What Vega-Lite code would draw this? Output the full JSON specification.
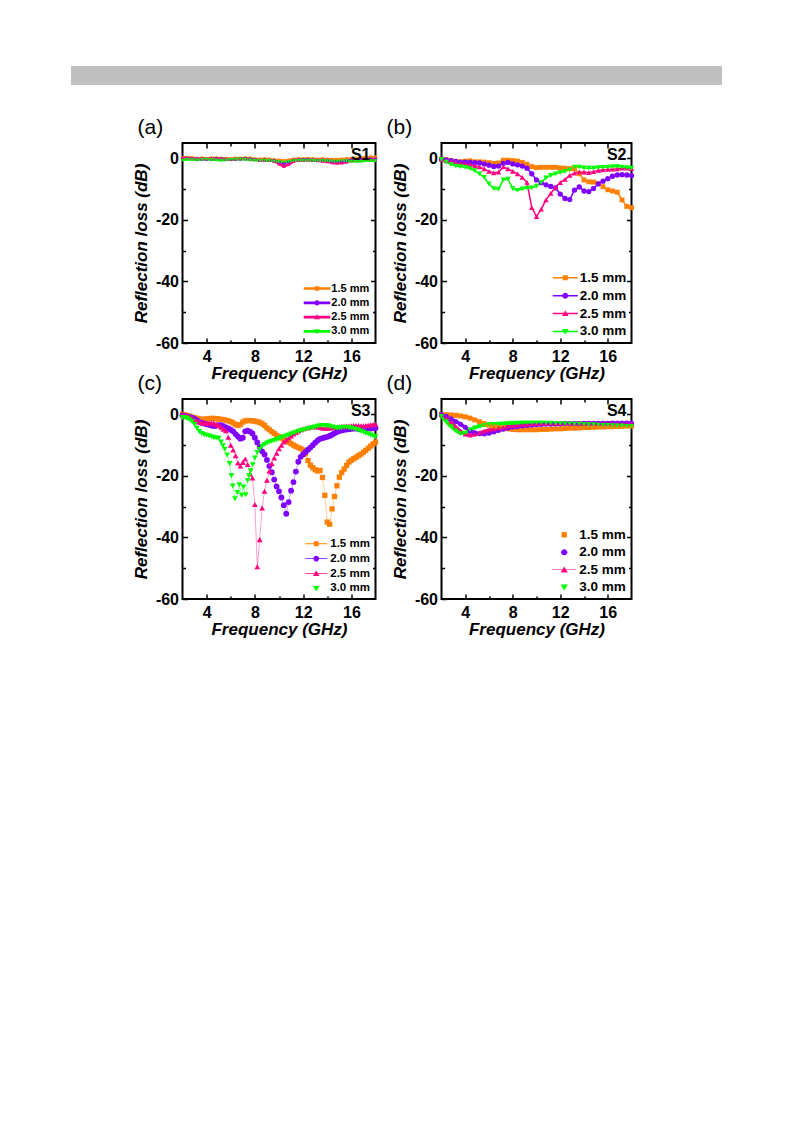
{
"$schema": "https://vega.github.io/schema/vega-lite/v6.json",
"padding": {"left": 71, "top": 66, "right": 5, "bottom": 5},
"background": "white",
"config": {
 "font": "Liberation Sans",
 "view": {"stroke": "black", "strokeWidth": 2},
 "axis": {"domain": false, "grid": false, "labelFont": "Liberation Sans", "labelFontSize": 16, "labelFontWeight": "bold", "labelColor": "black", "tickColor": "black", "tickWidth": 1.5, "titleFont": "Liberation Sans", "titleFontSize": 17, "titleFontWeight": "bold", "titleFontStyle": "italic", "titleColor": "black"},
 "title": {"font": "Liberation Sans", "fontSize": 21, "fontWeight": "normal", "color": "black", "anchor": "start", "frame": "group"},
 "legend": {"labelFont": "Liberation Sans", "labelFontWeight": "bold", "labelColor": "black", "symbolStrokeWidth": 0, "padding": 0}
},
"datasets": {
"a": [
{"s":"1.5 mm","f":2,"v":0.2},{"s":"1.5 mm","f":2.4,"v":0.2},{"s":"1.5 mm","f":2.8,"v":0.1},{"s":"1.5 mm","f":3.2,"v":0},{"s":"1.5 mm","f":3.6,"v":0},{"s":"1.5 mm","f":4,"v":-0.1},{"s":"1.5 mm","f":4.4,"v":0},{"s":"1.5 mm","f":4.8,"v":0.1},{"s":"1.5 mm","f":5.2,"v":0},{"s":"1.5 mm","f":5.6,"v":-0.1},{"s":"1.5 mm","f":6,"v":-0.2},{"s":"1.5 mm","f":6.4,"v":0},{"s":"1.5 mm","f":6.8,"v":0},{"s":"1.5 mm","f":7.2,"v":0.1},{"s":"1.5 mm","f":7.6,"v":0},{"s":"1.5 mm","f":8,"v":-0.2},{"s":"1.5 mm","f":8.4,"v":-0.3},{"s":"1.5 mm","f":8.8,"v":-0.2},{"s":"1.5 mm","f":9.2,"v":-0.3},{"s":"1.5 mm","f":9.6,"v":-0.5},{"s":"1.5 mm","f":10,"v":-0.6},{"s":"1.5 mm","f":10.4,"v":-0.8},{"s":"1.5 mm","f":10.8,"v":-0.6},{"s":"1.5 mm","f":11.2,"v":-0.3},{"s":"1.5 mm","f":11.6,"v":-0.2},{"s":"1.5 mm","f":12,"v":-0.2},{"s":"1.5 mm","f":12.4,"v":-0.1},{"s":"1.5 mm","f":12.8,"v":-0.2},{"s":"1.5 mm","f":13.2,"v":-0.3},{"s":"1.5 mm","f":13.6,"v":-0.2},{"s":"1.5 mm","f":14,"v":-0.3},{"s":"1.5 mm","f":14.4,"v":-0.4},{"s":"1.5 mm","f":14.8,"v":-0.4},{"s":"1.5 mm","f":15.2,"v":-0.3},{"s":"1.5 mm","f":15.6,"v":-0.2},{"s":"1.5 mm","f":16,"v":-0.1},{"s":"1.5 mm","f":16.4,"v":0},{"s":"1.5 mm","f":16.8,"v":0.2},{"s":"1.5 mm","f":17.2,"v":0.3},{"s":"1.5 mm","f":17.6,"v":0.4},{"s":"1.5 mm","f":18,"v":0.4},
{"s":"2.0 mm","f":2,"v":0},{"s":"2.0 mm","f":2.4,"v":0},{"s":"2.0 mm","f":2.8,"v":-0.1},{"s":"2.0 mm","f":3.2,"v":-0.2},{"s":"2.0 mm","f":3.6,"v":-0.2},{"s":"2.0 mm","f":4,"v":-0.3},{"s":"2.0 mm","f":4.4,"v":-0.2},{"s":"2.0 mm","f":4.8,"v":-0.1},{"s":"2.0 mm","f":5.2,"v":-0.2},{"s":"2.0 mm","f":5.6,"v":-0.3},{"s":"2.0 mm","f":6,"v":-0.4},{"s":"2.0 mm","f":6.4,"v":-0.3},{"s":"2.0 mm","f":6.8,"v":-0.2},{"s":"2.0 mm","f":7.2,"v":-0.1},{"s":"2.0 mm","f":7.6,"v":-0.2},{"s":"2.0 mm","f":8,"v":-0.4},{"s":"2.0 mm","f":8.4,"v":-0.6},{"s":"2.0 mm","f":8.8,"v":-0.5},{"s":"2.0 mm","f":9.2,"v":-0.6},{"s":"2.0 mm","f":9.6,"v":-0.8},{"s":"2.0 mm","f":10,"v":-1.2},{"s":"2.0 mm","f":10.4,"v":-1.6},{"s":"2.0 mm","f":10.8,"v":-1.1},{"s":"2.0 mm","f":11.2,"v":-0.6},{"s":"2.0 mm","f":11.6,"v":-0.5},{"s":"2.0 mm","f":12,"v":-0.4},{"s":"2.0 mm","f":12.4,"v":-0.4},{"s":"2.0 mm","f":12.8,"v":-0.5},{"s":"2.0 mm","f":13.2,"v":-0.6},{"s":"2.0 mm","f":13.6,"v":-0.5},{"s":"2.0 mm","f":14,"v":-0.7},{"s":"2.0 mm","f":14.4,"v":-0.9},{"s":"2.0 mm","f":14.8,"v":-1.0},{"s":"2.0 mm","f":15.2,"v":-0.9},{"s":"2.0 mm","f":15.6,"v":-0.7},{"s":"2.0 mm","f":16,"v":-0.5},{"s":"2.0 mm","f":16.4,"v":-0.4},{"s":"2.0 mm","f":16.8,"v":-0.3},{"s":"2.0 mm","f":17.2,"v":-0.2},{"s":"2.0 mm","f":17.6,"v":-0.2},{"s":"2.0 mm","f":18,"v":-0.2},
{"s":"2.5 mm","f":2,"v":0.3},{"s":"2.5 mm","f":2.4,"v":0.2},{"s":"2.5 mm","f":2.8,"v":0},{"s":"2.5 mm","f":3.2,"v":-0.2},{"s":"2.5 mm","f":3.6,"v":-0.1},{"s":"2.5 mm","f":4,"v":0},{"s":"2.5 mm","f":4.4,"v":0.1},{"s":"2.5 mm","f":4.8,"v":0},{"s":"2.5 mm","f":5.2,"v":-0.1},{"s":"2.5 mm","f":5.6,"v":-0.2},{"s":"2.5 mm","f":6,"v":-0.3},{"s":"2.5 mm","f":6.4,"v":-0.1},{"s":"2.5 mm","f":6.8,"v":0},{"s":"2.5 mm","f":7.2,"v":0},{"s":"2.5 mm","f":7.6,"v":-0.2},{"s":"2.5 mm","f":8,"v":-0.4},{"s":"2.5 mm","f":8.4,"v":-0.6},{"s":"2.5 mm","f":8.8,"v":-0.5},{"s":"2.5 mm","f":9.2,"v":-0.6},{"s":"2.5 mm","f":9.6,"v":-1.0},{"s":"2.5 mm","f":10,"v":-1.8},{"s":"2.5 mm","f":10.4,"v":-2.6},{"s":"2.5 mm","f":10.8,"v":-2.0},{"s":"2.5 mm","f":11.2,"v":-1.0},{"s":"2.5 mm","f":11.6,"v":-0.7},{"s":"2.5 mm","f":12,"v":-0.6},{"s":"2.5 mm","f":12.4,"v":-0.5},{"s":"2.5 mm","f":12.8,"v":-0.6},{"s":"2.5 mm","f":13.2,"v":-0.8},{"s":"2.5 mm","f":13.6,"v":-0.9},{"s":"2.5 mm","f":14,"v":-1.1},{"s":"2.5 mm","f":14.4,"v":-1.4},{"s":"2.5 mm","f":14.8,"v":-1.6},{"s":"2.5 mm","f":15.2,"v":-1.5},{"s":"2.5 mm","f":15.6,"v":-1.2},{"s":"2.5 mm","f":16,"v":-0.8},{"s":"2.5 mm","f":16.4,"v":-0.6},{"s":"2.5 mm","f":16.8,"v":-0.5},{"s":"2.5 mm","f":17.2,"v":-0.4},{"s":"2.5 mm","f":17.6,"v":-0.4},{"s":"2.5 mm","f":18,"v":-0.3},
{"s":"3.0 mm","f":2,"v":-0.5},{"s":"3.0 mm","f":2.4,"v":-0.4},{"s":"3.0 mm","f":2.8,"v":-0.4},{"s":"3.0 mm","f":3.2,"v":-0.5},{"s":"3.0 mm","f":3.6,"v":-0.4},{"s":"3.0 mm","f":4,"v":-0.3},{"s":"3.0 mm","f":4.4,"v":-0.4},{"s":"3.0 mm","f":4.8,"v":-0.5},{"s":"3.0 mm","f":5.2,"v":-0.6},{"s":"3.0 mm","f":5.6,"v":-0.5},{"s":"3.0 mm","f":6,"v":-0.4},{"s":"3.0 mm","f":6.4,"v":-0.3},{"s":"3.0 mm","f":6.8,"v":-0.2},{"s":"3.0 mm","f":7.2,"v":-0.3},{"s":"3.0 mm","f":7.6,"v":-0.5},{"s":"3.0 mm","f":8,"v":-0.6},{"s":"3.0 mm","f":8.4,"v":-0.7},{"s":"3.0 mm","f":8.8,"v":-0.6},{"s":"3.0 mm","f":9.2,"v":-0.7},{"s":"3.0 mm","f":9.6,"v":-0.9},{"s":"3.0 mm","f":10,"v":-1.1},{"s":"3.0 mm","f":10.4,"v":-1.2},{"s":"3.0 mm","f":10.8,"v":-1.0},{"s":"3.0 mm","f":11.2,"v":-0.8},{"s":"3.0 mm","f":11.6,"v":-0.7},{"s":"3.0 mm","f":12,"v":-0.6},{"s":"3.0 mm","f":12.4,"v":-0.6},{"s":"3.0 mm","f":12.8,"v":-0.7},{"s":"3.0 mm","f":13.2,"v":-0.8},{"s":"3.0 mm","f":13.6,"v":-0.7},{"s":"3.0 mm","f":14,"v":-0.8},{"s":"3.0 mm","f":14.4,"v":-0.9},{"s":"3.0 mm","f":14.8,"v":-0.9},{"s":"3.0 mm","f":15.2,"v":-0.8},{"s":"3.0 mm","f":15.6,"v":-0.8},{"s":"3.0 mm","f":16,"v":-0.9},{"s":"3.0 mm","f":16.4,"v":-1.0},{"s":"3.0 mm","f":16.8,"v":-0.9},{"s":"3.0 mm","f":17.2,"v":-0.8},{"s":"3.0 mm","f":17.6,"v":-0.7},{"s":"3.0 mm","f":18,"v":-0.8}
],
"b": [
{"s":"1.5 mm","f":2,"v":-0.2},{"s":"1.5 mm","f":2.4,"v":-0.4},{"s":"1.5 mm","f":2.8,"v":-0.7},{"s":"1.5 mm","f":3.2,"v":-1.0},{"s":"1.5 mm","f":3.6,"v":-1.1},{"s":"1.5 mm","f":4,"v":-0.9},{"s":"1.5 mm","f":4.4,"v":-0.8},{"s":"1.5 mm","f":4.8,"v":-1.1},{"s":"1.5 mm","f":5.2,"v":-1.1},{"s":"1.5 mm","f":5.6,"v":-1.2},{"s":"1.5 mm","f":6,"v":-1.4},{"s":"1.5 mm","f":6.4,"v":-1.6},{"s":"1.5 mm","f":6.8,"v":-1.5},{"s":"1.5 mm","f":7.2,"v":-0.6},{"s":"1.5 mm","f":7.6,"v":-0.6},{"s":"1.5 mm","f":8,"v":-0.7},{"s":"1.5 mm","f":8.4,"v":-0.9},{"s":"1.5 mm","f":8.8,"v":-1.3},{"s":"1.5 mm","f":9.2,"v":-1.9},{"s":"1.5 mm","f":9.6,"v":-2.7},{"s":"1.5 mm","f":10,"v":-3.0},{"s":"1.5 mm","f":10.4,"v":-2.9},{"s":"1.5 mm","f":10.8,"v":-2.9},{"s":"1.5 mm","f":11.2,"v":-2.9},{"s":"1.5 mm","f":11.6,"v":-2.9},{"s":"1.5 mm","f":12,"v":-3.1},{"s":"1.5 mm","f":12.4,"v":-3.2},{"s":"1.5 mm","f":12.8,"v":-3.3},{"s":"1.5 mm","f":13.2,"v":-3.4},{"s":"1.5 mm","f":13.6,"v":-5.0},{"s":"1.5 mm","f":14,"v":-7.0},{"s":"1.5 mm","f":14.4,"v":-7.6},{"s":"1.5 mm","f":14.8,"v":-7.7},{"s":"1.5 mm","f":15.2,"v":-8.2},{"s":"1.5 mm","f":15.6,"v":-9.2},{"s":"1.5 mm","f":16,"v":-10.2},{"s":"1.5 mm","f":16.4,"v":-10.6},{"s":"1.5 mm","f":16.8,"v":-11.0},{"s":"1.5 mm","f":17.2,"v":-13.5},{"s":"1.5 mm","f":17.6,"v":-15.6},{"s":"1.5 mm","f":18,"v":-16.0},
{"s":"2.0 mm","f":2,"v":-0.2},{"s":"2.0 mm","f":2.4,"v":-0.5},{"s":"2.0 mm","f":2.8,"v":-0.7},{"s":"2.0 mm","f":3.2,"v":-1.0},{"s":"2.0 mm","f":3.6,"v":-1.2},{"s":"2.0 mm","f":4,"v":-1.2},{"s":"2.0 mm","f":4.4,"v":-1.3},{"s":"2.0 mm","f":4.8,"v":-1.4},{"s":"2.0 mm","f":5.2,"v":-1.5},{"s":"2.0 mm","f":5.6,"v":-1.8},{"s":"2.0 mm","f":6,"v":-2.2},{"s":"2.0 mm","f":6.4,"v":-2.6},{"s":"2.0 mm","f":6.8,"v":-2.5},{"s":"2.0 mm","f":7.2,"v":-1.6},{"s":"2.0 mm","f":7.6,"v":-1.3},{"s":"2.0 mm","f":8,"v":-1.8},{"s":"2.0 mm","f":8.4,"v":-2.1},{"s":"2.0 mm","f":8.8,"v":-2.5},{"s":"2.0 mm","f":9.2,"v":-3.2},{"s":"2.0 mm","f":9.6,"v":-5.0},{"s":"2.0 mm","f":10,"v":-7.0},{"s":"2.0 mm","f":10.4,"v":-7.9},{"s":"2.0 mm","f":10.8,"v":-8.6},{"s":"2.0 mm","f":11.2,"v":-9.1},{"s":"2.0 mm","f":11.6,"v":-9.6},{"s":"2.0 mm","f":12,"v":-11.6},{"s":"2.0 mm","f":12.4,"v":-13.0},{"s":"2.0 mm","f":12.8,"v":-13.4},{"s":"2.0 mm","f":13.2,"v":-10.3},{"s":"2.0 mm","f":13.6,"v":-9.3},{"s":"2.0 mm","f":14,"v":-10.6},{"s":"2.0 mm","f":14.4,"v":-10.8},{"s":"2.0 mm","f":14.8,"v":-9.8},{"s":"2.0 mm","f":15.2,"v":-8.3},{"s":"2.0 mm","f":15.6,"v":-7.4},{"s":"2.0 mm","f":16,"v":-6.6},{"s":"2.0 mm","f":16.4,"v":-5.8},{"s":"2.0 mm","f":16.8,"v":-5.4},{"s":"2.0 mm","f":17.2,"v":-5.3},{"s":"2.0 mm","f":17.6,"v":-5.4},{"s":"2.0 mm","f":18,"v":-5.6},
{"s":"2.5 mm","f":2,"v":-0.2},{"s":"2.5 mm","f":2.4,"v":-0.7},{"s":"2.5 mm","f":2.8,"v":-1.0},{"s":"2.5 mm","f":3.2,"v":-1.3},{"s":"2.5 mm","f":3.6,"v":-1.6},{"s":"2.5 mm","f":4,"v":-1.8},{"s":"2.5 mm","f":4.4,"v":-2.0},{"s":"2.5 mm","f":4.8,"v":-2.4},{"s":"2.5 mm","f":5.2,"v":-2.8},{"s":"2.5 mm","f":5.6,"v":-3.4},{"s":"2.5 mm","f":6,"v":-4.2},{"s":"2.5 mm","f":6.4,"v":-4.7},{"s":"2.5 mm","f":6.8,"v":-4.5},{"s":"2.5 mm","f":7.2,"v":-2.8},{"s":"2.5 mm","f":7.6,"v":-3.4},{"s":"2.5 mm","f":8,"v":-4.2},{"s":"2.5 mm","f":8.4,"v":-5.0},{"s":"2.5 mm","f":8.8,"v":-6.2},{"s":"2.5 mm","f":9.2,"v":-7.8},{"s":"2.5 mm","f":9.6,"v":-16.0},{"s":"2.5 mm","f":10,"v":-18.9},{"s":"2.5 mm","f":10.4,"v":-16.5},{"s":"2.5 mm","f":10.8,"v":-13.5},{"s":"2.5 mm","f":11.2,"v":-11.4},{"s":"2.5 mm","f":11.6,"v":-9.4},{"s":"2.5 mm","f":12,"v":-7.9},{"s":"2.5 mm","f":12.4,"v":-6.8},{"s":"2.5 mm","f":12.8,"v":-5.5},{"s":"2.5 mm","f":13.2,"v":-4.8},{"s":"2.5 mm","f":13.6,"v":-4.4},{"s":"2.5 mm","f":14,"v":-4.5},{"s":"2.5 mm","f":14.4,"v":-4.6},{"s":"2.5 mm","f":14.8,"v":-4.3},{"s":"2.5 mm","f":15.2,"v":-3.9},{"s":"2.5 mm","f":15.6,"v":-3.7},{"s":"2.5 mm","f":16,"v":-3.6},{"s":"2.5 mm","f":16.4,"v":-3.5},{"s":"2.5 mm","f":16.8,"v":-3.4},{"s":"2.5 mm","f":17.2,"v":-3.2},{"s":"2.5 mm","f":17.6,"v":-3.2},{"s":"2.5 mm","f":18,"v":-3.3},
{"s":"3.0 mm","f":2,"v":-0.3},{"s":"3.0 mm","f":2.4,"v":-1.2},{"s":"3.0 mm","f":2.8,"v":-2.0},{"s":"3.0 mm","f":3.2,"v":-2.5},{"s":"3.0 mm","f":3.6,"v":-2.7},{"s":"3.0 mm","f":4,"v":-2.9},{"s":"3.0 mm","f":4.4,"v":-3.3},{"s":"3.0 mm","f":4.8,"v":-4.0},{"s":"3.0 mm","f":5.2,"v":-5.0},{"s":"3.0 mm","f":5.6,"v":-6.2},{"s":"3.0 mm","f":6,"v":-8.3},{"s":"3.0 mm","f":6.4,"v":-9.8},{"s":"3.0 mm","f":6.8,"v":-10.0},{"s":"3.0 mm","f":7.2,"v":-7.0},{"s":"3.0 mm","f":7.6,"v":-6.7},{"s":"3.0 mm","f":8,"v":-9.8},{"s":"3.0 mm","f":8.4,"v":-10.4},{"s":"3.0 mm","f":8.8,"v":-9.9},{"s":"3.0 mm","f":9.2,"v":-9.7},{"s":"3.0 mm","f":9.6,"v":-9.6},{"s":"3.0 mm","f":10,"v":-9.0},{"s":"3.0 mm","f":10.4,"v":-7.8},{"s":"3.0 mm","f":10.8,"v":-6.3},{"s":"3.0 mm","f":11.2,"v":-5.5},{"s":"3.0 mm","f":11.6,"v":-5.0},{"s":"3.0 mm","f":12,"v":-4.6},{"s":"3.0 mm","f":12.4,"v":-4.2},{"s":"3.0 mm","f":12.8,"v":-3.7},{"s":"3.0 mm","f":13.2,"v":-2.8},{"s":"3.0 mm","f":13.6,"v":-2.8},{"s":"3.0 mm","f":14,"v":-3.1},{"s":"3.0 mm","f":14.4,"v":-3.2},{"s":"3.0 mm","f":14.8,"v":-3.2},{"s":"3.0 mm","f":15.2,"v":-3.0},{"s":"3.0 mm","f":15.6,"v":-2.9},{"s":"3.0 mm","f":16,"v":-2.8},{"s":"3.0 mm","f":16.4,"v":-2.7},{"s":"3.0 mm","f":16.8,"v":-2.6},{"s":"3.0 mm","f":17.2,"v":-2.8},{"s":"3.0 mm","f":17.6,"v":-3.0},{"s":"3.0 mm","f":18,"v":-3.2}
],
"c": [
{"s":"1.5 mm","f":2,"v":0},{"s":"1.5 mm","f":2.2,"v":-0.2},{"s":"1.5 mm","f":2.4,"v":-0.4},{"s":"1.5 mm","f":2.6,"v":-0.6},{"s":"1.5 mm","f":2.8,"v":-0.9},{"s":"1.5 mm","f":3,"v":-1.1},{"s":"1.5 mm","f":3.2,"v":-1.3},{"s":"1.5 mm","f":3.4,"v":-1.5},{"s":"1.5 mm","f":3.6,"v":-1.6},{"s":"1.5 mm","f":3.8,"v":-1.6},{"s":"1.5 mm","f":4,"v":-1.5},{"s":"1.5 mm","f":4.2,"v":-1.4},{"s":"1.5 mm","f":4.4,"v":-1.3},{"s":"1.5 mm","f":4.6,"v":-1.3},{"s":"1.5 mm","f":4.8,"v":-1.4},{"s":"1.5 mm","f":5,"v":-1.5},{"s":"1.5 mm","f":5.2,"v":-1.6},{"s":"1.5 mm","f":5.4,"v":-1.7},{"s":"1.5 mm","f":5.6,"v":-1.9},{"s":"1.5 mm","f":5.8,"v":-2.1},{"s":"1.5 mm","f":6,"v":-2.4},{"s":"1.5 mm","f":6.2,"v":-2.8},{"s":"1.5 mm","f":6.4,"v":-3.3},{"s":"1.5 mm","f":6.6,"v":-3.6},{"s":"1.5 mm","f":6.8,"v":-3.3},{"s":"1.5 mm","f":7,"v":-2.5},{"s":"1.5 mm","f":7.2,"v":-2.1},{"s":"1.5 mm","f":7.4,"v":-2.0},{"s":"1.5 mm","f":7.6,"v":-2.0},{"s":"1.5 mm","f":7.8,"v":-2.1},{"s":"1.5 mm","f":8,"v":-2.2},{"s":"1.5 mm","f":8.2,"v":-2.4},{"s":"1.5 mm","f":8.4,"v":-2.6},{"s":"1.5 mm","f":8.6,"v":-3.0},{"s":"1.5 mm","f":8.8,"v":-3.6},{"s":"1.5 mm","f":9,"v":-4.4},{"s":"1.5 mm","f":9.2,"v":-5.0},{"s":"1.5 mm","f":9.4,"v":-5.6},{"s":"1.5 mm","f":9.6,"v":-6.2},{"s":"1.5 mm","f":9.8,"v":-6.8},{"s":"1.5 mm","f":10,"v":-7.3},{"s":"1.5 mm","f":10.2,"v":-7.7},{"s":"1.5 mm","f":10.4,"v":-8.1},{"s":"1.5 mm","f":10.6,"v":-8.5},{"s":"1.5 mm","f":10.8,"v":-9.0},{"s":"1.5 mm","f":11,"v":-9.5},{"s":"1.5 mm","f":11.2,"v":-10.0},{"s":"1.5 mm","f":11.4,"v":-10.4},{"s":"1.5 mm","f":11.6,"v":-10.8},{"s":"1.5 mm","f":11.8,"v":-11.1},{"s":"1.5 mm","f":12,"v":-11.6},{"s":"1.5 mm","f":12.2,"v":-12.8},{"s":"1.5 mm","f":12.4,"v":-15.0},{"s":"1.5 mm","f":12.6,"v":-16.5},{"s":"1.5 mm","f":12.8,"v":-17.3},{"s":"1.5 mm","f":13,"v":-18.0},{"s":"1.5 mm","f":13.2,"v":-18.4},{"s":"1.5 mm","f":13.4,"v":-18.2},{"s":"1.5 mm","f":13.6,"v":-20.5},{"s":"1.5 mm","f":13.8,"v":-26.3},{"s":"1.5 mm","f":14,"v":-35.0},{"s":"1.5 mm","f":14.2,"v":-35.7},{"s":"1.5 mm","f":14.4,"v":-30.7},{"s":"1.5 mm","f":14.6,"v":-26.7},{"s":"1.5 mm","f":14.8,"v":-23.2},{"s":"1.5 mm","f":15,"v":-20.4},{"s":"1.5 mm","f":15.2,"v":-18.9},{"s":"1.5 mm","f":15.4,"v":-17.8},{"s":"1.5 mm","f":15.6,"v":-16.6},{"s":"1.5 mm","f":15.8,"v":-15.5},{"s":"1.5 mm","f":16,"v":-14.9},{"s":"1.5 mm","f":16.2,"v":-14.4},{"s":"1.5 mm","f":16.4,"v":-13.9},{"s":"1.5 mm","f":16.6,"v":-13.4},{"s":"1.5 mm","f":16.8,"v":-12.9},{"s":"1.5 mm","f":17,"v":-12.3},{"s":"1.5 mm","f":17.2,"v":-11.7},{"s":"1.5 mm","f":17.4,"v":-11.0},{"s":"1.5 mm","f":17.6,"v":-10.3},{"s":"1.5 mm","f":17.8,"v":-9.6},{"s":"1.5 mm","f":18,"v":-9.0},
{"s":"2.0 mm","f":2,"v":-0.3},{"s":"2.0 mm","f":2.2,"v":-0.5},{"s":"2.0 mm","f":2.4,"v":-0.7},{"s":"2.0 mm","f":2.6,"v":-0.9},{"s":"2.0 mm","f":2.8,"v":-1.1},{"s":"2.0 mm","f":3,"v":-1.5},{"s":"2.0 mm","f":3.2,"v":-2.0},{"s":"2.0 mm","f":3.4,"v":-2.5},{"s":"2.0 mm","f":3.6,"v":-2.8},{"s":"2.0 mm","f":3.8,"v":-3.0},{"s":"2.0 mm","f":4,"v":-3.2},{"s":"2.0 mm","f":4.2,"v":-3.4},{"s":"2.0 mm","f":4.4,"v":-3.6},{"s":"2.0 mm","f":4.6,"v":-3.8},{"s":"2.0 mm","f":4.8,"v":-3.7},{"s":"2.0 mm","f":5,"v":-3.5},{"s":"2.0 mm","f":5.2,"v":-3.5},{"s":"2.0 mm","f":5.4,"v":-3.8},{"s":"2.0 mm","f":5.6,"v":-4.2},{"s":"2.0 mm","f":5.8,"v":-4.6},{"s":"2.0 mm","f":6,"v":-5.0},{"s":"2.0 mm","f":6.2,"v":-5.5},{"s":"2.0 mm","f":6.4,"v":-6.4},{"s":"2.0 mm","f":6.6,"v":-7.2},{"s":"2.0 mm","f":6.8,"v":-7.9},{"s":"2.0 mm","f":7,"v":-7.6},{"s":"2.0 mm","f":7.2,"v":-5.5},{"s":"2.0 mm","f":7.4,"v":-5.3},{"s":"2.0 mm","f":7.6,"v":-5.6},{"s":"2.0 mm","f":7.8,"v":-6.2},{"s":"2.0 mm","f":8,"v":-7.6},{"s":"2.0 mm","f":8.2,"v":-9.1},{"s":"2.0 mm","f":8.4,"v":-10.6},{"s":"2.0 mm","f":8.6,"v":-12.0},{"s":"2.0 mm","f":8.8,"v":-13.0},{"s":"2.0 mm","f":9,"v":-14.8},{"s":"2.0 mm","f":9.2,"v":-16.8},{"s":"2.0 mm","f":9.4,"v":-18.8},{"s":"2.0 mm","f":9.6,"v":-21.2},{"s":"2.0 mm","f":9.8,"v":-23.4},{"s":"2.0 mm","f":10,"v":-25.0},{"s":"2.0 mm","f":10.2,"v":-27.0},{"s":"2.0 mm","f":10.4,"v":-29.5},{"s":"2.0 mm","f":10.6,"v":-32.3},{"s":"2.0 mm","f":10.8,"v":-28.5},{"s":"2.0 mm","f":11,"v":-24.8},{"s":"2.0 mm","f":11.2,"v":-22.0},{"s":"2.0 mm","f":11.4,"v":-18.6},{"s":"2.0 mm","f":11.6,"v":-15.4},{"s":"2.0 mm","f":11.8,"v":-13.8},{"s":"2.0 mm","f":12,"v":-13.0},{"s":"2.0 mm","f":12.2,"v":-12.2},{"s":"2.0 mm","f":12.4,"v":-11.5},{"s":"2.0 mm","f":12.6,"v":-10.8},{"s":"2.0 mm","f":12.8,"v":-10.0},{"s":"2.0 mm","f":13,"v":-9.2},{"s":"2.0 mm","f":13.2,"v":-8.5},{"s":"2.0 mm","f":13.4,"v":-8.0},{"s":"2.0 mm","f":13.6,"v":-7.7},{"s":"2.0 mm","f":13.8,"v":-7.5},{"s":"2.0 mm","f":14,"v":-7.3},{"s":"2.0 mm","f":14.2,"v":-7.0},{"s":"2.0 mm","f":14.4,"v":-6.6},{"s":"2.0 mm","f":14.6,"v":-6.1},{"s":"2.0 mm","f":14.8,"v":-5.7},{"s":"2.0 mm","f":15,"v":-5.4},{"s":"2.0 mm","f":15.2,"v":-5.2},{"s":"2.0 mm","f":15.4,"v":-5.0},{"s":"2.0 mm","f":15.6,"v":-4.9},{"s":"2.0 mm","f":15.8,"v":-4.8},{"s":"2.0 mm","f":16,"v":-4.7},{"s":"2.0 mm","f":16.2,"v":-4.6},{"s":"2.0 mm","f":16.4,"v":-4.6},{"s":"2.0 mm","f":16.6,"v":-4.7},{"s":"2.0 mm","f":16.8,"v":-4.8},{"s":"2.0 mm","f":17,"v":-4.8},{"s":"2.0 mm","f":17.2,"v":-4.7},{"s":"2.0 mm","f":17.4,"v":-4.6},{"s":"2.0 mm","f":17.6,"v":-4.6},{"s":"2.0 mm","f":17.8,"v":-4.5},{"s":"2.0 mm","f":18,"v":-4.4},
{"s":"2.5 mm","f":2,"v":-0.2},{"s":"2.5 mm","f":2.2,"v":-0.3},{"s":"2.5 mm","f":2.4,"v":-0.5},{"s":"2.5 mm","f":2.6,"v":-0.8},{"s":"2.5 mm","f":2.8,"v":-1.3},{"s":"2.5 mm","f":3,"v":-1.8},{"s":"2.5 mm","f":3.2,"v":-2.2},{"s":"2.5 mm","f":3.4,"v":-2.5},{"s":"2.5 mm","f":3.6,"v":-2.7},{"s":"2.5 mm","f":3.8,"v":-2.9},{"s":"2.5 mm","f":4,"v":-2.9},{"s":"2.5 mm","f":4.2,"v":-2.8},{"s":"2.5 mm","f":4.4,"v":-2.7},{"s":"2.5 mm","f":4.6,"v":-2.8},{"s":"2.5 mm","f":4.8,"v":-3.2},{"s":"2.5 mm","f":5,"v":-3.6},{"s":"2.5 mm","f":5.2,"v":-4.2},{"s":"2.5 mm","f":5.4,"v":-4.8},{"s":"2.5 mm","f":5.6,"v":-5.3},{"s":"2.5 mm","f":5.8,"v":-7.4},{"s":"2.5 mm","f":6,"v":-10.0},{"s":"2.5 mm","f":6.2,"v":-11.6},{"s":"2.5 mm","f":6.4,"v":-13.4},{"s":"2.5 mm","f":6.6,"v":-15.8},{"s":"2.5 mm","f":6.8,"v":-16.8},{"s":"2.5 mm","f":7,"v":-15.6},{"s":"2.5 mm","f":7.2,"v":-14.5},{"s":"2.5 mm","f":7.4,"v":-16.3},{"s":"2.5 mm","f":7.6,"v":-19.4},{"s":"2.5 mm","f":7.8,"v":-20.7},{"s":"2.5 mm","f":8,"v":-29.3},{"s":"2.5 mm","f":8.2,"v":-49.5},{"s":"2.5 mm","f":8.4,"v":-40.7},{"s":"2.5 mm","f":8.6,"v":-30.4},{"s":"2.5 mm","f":8.8,"v":-25.0},{"s":"2.5 mm","f":9,"v":-21.4},{"s":"2.5 mm","f":9.2,"v":-18.4},{"s":"2.5 mm","f":9.4,"v":-16.0},{"s":"2.5 mm","f":9.6,"v":-14.2},{"s":"2.5 mm","f":9.8,"v":-12.6},{"s":"2.5 mm","f":10,"v":-11.2},{"s":"2.5 mm","f":10.2,"v":-10.0},{"s":"2.5 mm","f":10.4,"v":-9.0},{"s":"2.5 mm","f":10.6,"v":-8.3},{"s":"2.5 mm","f":10.8,"v":-7.6},{"s":"2.5 mm","f":11,"v":-7.0},{"s":"2.5 mm","f":11.2,"v":-6.4},{"s":"2.5 mm","f":11.4,"v":-5.9},{"s":"2.5 mm","f":11.6,"v":-5.4},{"s":"2.5 mm","f":11.8,"v":-5.0},{"s":"2.5 mm","f":12,"v":-4.7},{"s":"2.5 mm","f":12.2,"v":-4.5},{"s":"2.5 mm","f":12.4,"v":-4.3},{"s":"2.5 mm","f":12.6,"v":-4.1},{"s":"2.5 mm","f":12.8,"v":-4.0},{"s":"2.5 mm","f":13,"v":-4.0},{"s":"2.5 mm","f":13.2,"v":-4.1},{"s":"2.5 mm","f":13.4,"v":-4.2},{"s":"2.5 mm","f":13.6,"v":-4.4},{"s":"2.5 mm","f":13.8,"v":-4.5},{"s":"2.5 mm","f":14,"v":-4.5},{"s":"2.5 mm","f":14.2,"v":-4.4},{"s":"2.5 mm","f":14.4,"v":-4.3},{"s":"2.5 mm","f":14.6,"v":-4.2},{"s":"2.5 mm","f":14.8,"v":-4.1},{"s":"2.5 mm","f":15,"v":-4.0},{"s":"2.5 mm","f":15.2,"v":-3.9},{"s":"2.5 mm","f":15.4,"v":-3.9},{"s":"2.5 mm","f":15.6,"v":-3.8},{"s":"2.5 mm","f":15.8,"v":-3.8},{"s":"2.5 mm","f":16,"v":-3.7},{"s":"2.5 mm","f":16.2,"v":-3.6},{"s":"2.5 mm","f":16.4,"v":-3.6},{"s":"2.5 mm","f":16.6,"v":-3.6},{"s":"2.5 mm","f":16.8,"v":-3.7},{"s":"2.5 mm","f":17,"v":-3.7},{"s":"2.5 mm","f":17.2,"v":-3.6},{"s":"2.5 mm","f":17.4,"v":-3.5},{"s":"2.5 mm","f":17.6,"v":-3.4},{"s":"2.5 mm","f":17.8,"v":-3.3},{"s":"2.5 mm","f":18,"v":-3.2},
{"s":"3.0 mm","f":2,"v":-1.0},{"s":"3.0 mm","f":2.2,"v":-1.1},{"s":"3.0 mm","f":2.4,"v":-1.3},{"s":"3.0 mm","f":2.6,"v":-1.8},{"s":"3.0 mm","f":2.8,"v":-2.4},{"s":"3.0 mm","f":3,"v":-3.3},{"s":"3.0 mm","f":3.2,"v":-4.5},{"s":"3.0 mm","f":3.4,"v":-5.6},{"s":"3.0 mm","f":3.6,"v":-6.2},{"s":"3.0 mm","f":3.8,"v":-6.6},{"s":"3.0 mm","f":4,"v":-6.8},{"s":"3.0 mm","f":4.2,"v":-7.0},{"s":"3.0 mm","f":4.4,"v":-7.3},{"s":"3.0 mm","f":4.6,"v":-7.6},{"s":"3.0 mm","f":4.8,"v":-7.7},{"s":"3.0 mm","f":5,"v":-7.8},{"s":"3.0 mm","f":5.2,"v":-9.0},{"s":"3.0 mm","f":5.35,"v":-10.2},{"s":"3.0 mm","f":5.5,"v":-11.3},{"s":"3.0 mm","f":5.7,"v":-13.2},{"s":"3.0 mm","f":5.9,"v":-16.0},{"s":"3.0 mm","f":6.05,"v":-19.9},{"s":"3.0 mm","f":6.16,"v":-23.3},{"s":"3.0 mm","f":6.35,"v":-27.4},{"s":"3.0 mm","f":6.55,"v":-25.4},{"s":"3.0 mm","f":6.71,"v":-22.9},{"s":"3.0 mm","f":6.9,"v":-26.3},{"s":"3.0 mm","f":7.05,"v":-23.6},{"s":"3.0 mm","f":7.24,"v":-26.1},{"s":"3.0 mm","f":7.4,"v":-21.5},{"s":"3.0 mm","f":7.52,"v":-19.9},{"s":"3.0 mm","f":7.66,"v":-18.3},{"s":"3.0 mm","f":7.82,"v":-16.4},{"s":"3.0 mm","f":8,"v":-14.2},{"s":"3.0 mm","f":8.2,"v":-12.4},{"s":"3.0 mm","f":8.4,"v":-11.3},{"s":"3.0 mm","f":8.6,"v":-10.4},{"s":"3.0 mm","f":8.8,"v":-9.8},{"s":"3.0 mm","f":9,"v":-9.3},{"s":"3.0 mm","f":9.2,"v":-9.0},{"s":"3.0 mm","f":9.4,"v":-8.7},{"s":"3.0 mm","f":9.6,"v":-8.5},{"s":"3.0 mm","f":9.8,"v":-8.2},{"s":"3.0 mm","f":10,"v":-7.9},{"s":"3.0 mm","f":10.2,"v":-7.6},{"s":"3.0 mm","f":10.4,"v":-7.3},{"s":"3.0 mm","f":10.6,"v":-7.0},{"s":"3.0 mm","f":10.8,"v":-6.7},{"s":"3.0 mm","f":11,"v":-6.4},{"s":"3.0 mm","f":11.2,"v":-6.1},{"s":"3.0 mm","f":11.4,"v":-5.8},{"s":"3.0 mm","f":11.6,"v":-5.5},{"s":"3.0 mm","f":11.8,"v":-5.3},{"s":"3.0 mm","f":12,"v":-5.1},{"s":"3.0 mm","f":12.2,"v":-4.9},{"s":"3.0 mm","f":12.4,"v":-4.7},{"s":"3.0 mm","f":12.6,"v":-4.5},{"s":"3.0 mm","f":12.8,"v":-4.3},{"s":"3.0 mm","f":13,"v":-4.1},{"s":"3.0 mm","f":13.2,"v":-3.9},{"s":"3.0 mm","f":13.4,"v":-3.7},{"s":"3.0 mm","f":13.6,"v":-3.6},{"s":"3.0 mm","f":13.8,"v":-3.6},{"s":"3.0 mm","f":14,"v":-3.7},{"s":"3.0 mm","f":14.2,"v":-3.9},{"s":"3.0 mm","f":14.4,"v":-4.1},{"s":"3.0 mm","f":14.6,"v":-4.3},{"s":"3.0 mm","f":14.8,"v":-4.4},{"s":"3.0 mm","f":15,"v":-4.4},{"s":"3.0 mm","f":15.2,"v":-4.3},{"s":"3.0 mm","f":15.4,"v":-4.2},{"s":"3.0 mm","f":15.6,"v":-4.2},{"s":"3.0 mm","f":15.8,"v":-4.3},{"s":"3.0 mm","f":16,"v":-4.5},{"s":"3.0 mm","f":16.2,"v":-4.7},{"s":"3.0 mm","f":16.4,"v":-4.9},{"s":"3.0 mm","f":16.6,"v":-5.2},{"s":"3.0 mm","f":16.8,"v":-5.5},{"s":"3.0 mm","f":17,"v":-5.8},{"s":"3.0 mm","f":17.2,"v":-6.1},{"s":"3.0 mm","f":17.4,"v":-6.4},{"s":"3.0 mm","f":17.6,"v":-6.7},{"s":"3.0 mm","f":17.8,"v":-7.0},{"s":"3.0 mm","f":18,"v":-7.3}
],
"d": [
{"s":"1.5 mm","f":2,"v":0},{"s":"1.5 mm","f":2.4,"v":-0.1},{"s":"1.5 mm","f":2.8,"v":-0.2},{"s":"1.5 mm","f":3.2,"v":-0.3},{"s":"1.5 mm","f":3.6,"v":-0.5},{"s":"1.5 mm","f":4,"v":-0.8},{"s":"1.5 mm","f":4.4,"v":-1.2},{"s":"1.5 mm","f":4.8,"v":-1.8},{"s":"1.5 mm","f":5.2,"v":-2.4},{"s":"1.5 mm","f":5.6,"v":-3.0},{"s":"1.5 mm","f":6,"v":-3.5},{"s":"1.5 mm","f":6.4,"v":-3.9},{"s":"1.5 mm","f":6.8,"v":-4.2},{"s":"1.5 mm","f":7.2,"v":-4.5},{"s":"1.5 mm","f":7.6,"v":-4.7},{"s":"1.5 mm","f":8,"v":-4.9},{"s":"1.5 mm","f":8.4,"v":-5.0},{"s":"1.5 mm","f":8.8,"v":-5.0},{"s":"1.5 mm","f":9.2,"v":-5.0},{"s":"1.5 mm","f":9.6,"v":-5.0},{"s":"1.5 mm","f":10,"v":-5.0},{"s":"1.5 mm","f":10.4,"v":-4.9},{"s":"1.5 mm","f":10.8,"v":-4.9},{"s":"1.5 mm","f":11.2,"v":-4.8},{"s":"1.5 mm","f":11.6,"v":-4.7},{"s":"1.5 mm","f":12,"v":-4.7},{"s":"1.5 mm","f":12.4,"v":-4.6},{"s":"1.5 mm","f":12.8,"v":-4.5},{"s":"1.5 mm","f":13.2,"v":-4.5},{"s":"1.5 mm","f":13.6,"v":-4.4},{"s":"1.5 mm","f":14,"v":-4.3},{"s":"1.5 mm","f":14.4,"v":-4.3},{"s":"1.5 mm","f":14.8,"v":-4.2},{"s":"1.5 mm","f":15.2,"v":-4.1},{"s":"1.5 mm","f":15.6,"v":-4.1},{"s":"1.5 mm","f":16,"v":-4.0},{"s":"1.5 mm","f":16.4,"v":-4.0},{"s":"1.5 mm","f":16.8,"v":-3.9},{"s":"1.5 mm","f":17.2,"v":-3.9},{"s":"1.5 mm","f":17.6,"v":-3.8},{"s":"1.5 mm","f":18,"v":-3.8},
{"s":"2.0 mm","f":2,"v":0},{"s":"2.0 mm","f":2.4,"v":-0.6},{"s":"2.0 mm","f":2.8,"v":-1.4},{"s":"2.0 mm","f":3.2,"v":-2.3},{"s":"2.0 mm","f":3.6,"v":-3.2},{"s":"2.0 mm","f":4,"v":-4.2},{"s":"2.0 mm","f":4.4,"v":-5.4},{"s":"2.0 mm","f":4.8,"v":-6.0},{"s":"2.0 mm","f":5.2,"v":-6.3},{"s":"2.0 mm","f":5.6,"v":-6.4},{"s":"2.0 mm","f":6,"v":-6.1},{"s":"2.0 mm","f":6.4,"v":-5.7},{"s":"2.0 mm","f":6.8,"v":-5.2},{"s":"2.0 mm","f":7.2,"v":-4.8},{"s":"2.0 mm","f":7.6,"v":-4.5},{"s":"2.0 mm","f":8,"v":-4.2},{"s":"2.0 mm","f":8.4,"v":-4.0},{"s":"2.0 mm","f":8.8,"v":-3.8},{"s":"2.0 mm","f":9.2,"v":-3.6},{"s":"2.0 mm","f":9.6,"v":-3.5},{"s":"2.0 mm","f":10,"v":-3.4},{"s":"2.0 mm","f":10.4,"v":-3.3},{"s":"2.0 mm","f":10.8,"v":-3.2},{"s":"2.0 mm","f":11.2,"v":-3.2},{"s":"2.0 mm","f":11.6,"v":-3.1},{"s":"2.0 mm","f":12,"v":-3.1},{"s":"2.0 mm","f":12.4,"v":-3.0},{"s":"2.0 mm","f":12.8,"v":-3.0},{"s":"2.0 mm","f":13.2,"v":-3.0},{"s":"2.0 mm","f":13.6,"v":-3.0},{"s":"2.0 mm","f":14,"v":-2.9},{"s":"2.0 mm","f":14.4,"v":-2.9},{"s":"2.0 mm","f":14.8,"v":-2.9},{"s":"2.0 mm","f":15.2,"v":-2.9},{"s":"2.0 mm","f":15.6,"v":-2.9},{"s":"2.0 mm","f":16,"v":-2.9},{"s":"2.0 mm","f":16.4,"v":-2.8},{"s":"2.0 mm","f":16.8,"v":-2.8},{"s":"2.0 mm","f":17.2,"v":-2.8},{"s":"2.0 mm","f":17.6,"v":-2.8},{"s":"2.0 mm","f":18,"v":-2.8},
{"s":"2.5 mm","f":2,"v":-0.2},{"s":"2.5 mm","f":2.4,"v":-1.2},{"s":"2.5 mm","f":2.8,"v":-2.6},{"s":"2.5 mm","f":3.2,"v":-4.1},{"s":"2.5 mm","f":3.6,"v":-5.5},{"s":"2.5 mm","f":4,"v":-6.5},{"s":"2.5 mm","f":4.4,"v":-6.8},{"s":"2.5 mm","f":4.8,"v":-6.5},{"s":"2.5 mm","f":5.2,"v":-6.0},{"s":"2.5 mm","f":5.6,"v":-5.5},{"s":"2.5 mm","f":6,"v":-5.1},{"s":"2.5 mm","f":6.4,"v":-4.8},{"s":"2.5 mm","f":6.8,"v":-4.5},{"s":"2.5 mm","f":7.2,"v":-4.2},{"s":"2.5 mm","f":7.6,"v":-3.9},{"s":"2.5 mm","f":8,"v":-3.7},{"s":"2.5 mm","f":8.4,"v":-3.5},{"s":"2.5 mm","f":8.8,"v":-3.3},{"s":"2.5 mm","f":9.2,"v":-3.2},{"s":"2.5 mm","f":9.6,"v":-3.1},{"s":"2.5 mm","f":10,"v":-3.0},{"s":"2.5 mm","f":10.4,"v":-3.0},{"s":"2.5 mm","f":10.8,"v":-2.9},{"s":"2.5 mm","f":11.2,"v":-2.9},{"s":"2.5 mm","f":11.6,"v":-2.9},{"s":"2.5 mm","f":12,"v":-2.9},{"s":"2.5 mm","f":12.4,"v":-2.9},{"s":"2.5 mm","f":12.8,"v":-2.9},{"s":"2.5 mm","f":13.2,"v":-2.9},{"s":"2.5 mm","f":13.6,"v":-2.9},{"s":"2.5 mm","f":14,"v":-2.9},{"s":"2.5 mm","f":14.4,"v":-2.9},{"s":"2.5 mm","f":14.8,"v":-2.9},{"s":"2.5 mm","f":15.2,"v":-2.9},{"s":"2.5 mm","f":15.6,"v":-2.9},{"s":"2.5 mm","f":16,"v":-2.9},{"s":"2.5 mm","f":16.4,"v":-2.9},{"s":"2.5 mm","f":16.8,"v":-2.9},{"s":"2.5 mm","f":17.2,"v":-3.0},{"s":"2.5 mm","f":17.6,"v":-3.0},{"s":"2.5 mm","f":18,"v":-3.0},
{"s":"3.0 mm","f":2,"v":-0.6},{"s":"3.0 mm","f":2.4,"v":-2.3},{"s":"3.0 mm","f":2.8,"v":-3.9},{"s":"3.0 mm","f":3.2,"v":-5.3},{"s":"3.0 mm","f":3.6,"v":-6.2},{"s":"3.0 mm","f":4,"v":-6.0},{"s":"3.0 mm","f":4.4,"v":-5.0},{"s":"3.0 mm","f":4.8,"v":-4.3},{"s":"3.0 mm","f":5.2,"v":-3.8},{"s":"3.0 mm","f":5.6,"v":-3.5},{"s":"3.0 mm","f":6,"v":-3.3},{"s":"3.0 mm","f":6.4,"v":-3.2},{"s":"3.0 mm","f":6.8,"v":-3.1},{"s":"3.0 mm","f":7.2,"v":-3.0},{"s":"3.0 mm","f":7.6,"v":-2.9},{"s":"3.0 mm","f":8,"v":-2.8},{"s":"3.0 mm","f":8.4,"v":-2.8},{"s":"3.0 mm","f":8.8,"v":-2.7},{"s":"3.0 mm","f":9.2,"v":-2.7},{"s":"3.0 mm","f":9.6,"v":-2.7},{"s":"3.0 mm","f":10,"v":-2.7},{"s":"3.0 mm","f":10.4,"v":-2.7},{"s":"3.0 mm","f":10.8,"v":-2.8},{"s":"3.0 mm","f":11.2,"v":-2.8},{"s":"3.0 mm","f":11.6,"v":-2.9},{"s":"3.0 mm","f":12,"v":-2.9},{"s":"3.0 mm","f":12.4,"v":-3.0},{"s":"3.0 mm","f":12.8,"v":-3.0},{"s":"3.0 mm","f":13.2,"v":-3.1},{"s":"3.0 mm","f":13.6,"v":-3.1},{"s":"3.0 mm","f":14,"v":-3.2},{"s":"3.0 mm","f":14.4,"v":-3.3},{"s":"3.0 mm","f":14.8,"v":-3.3},{"s":"3.0 mm","f":15.2,"v":-3.4},{"s":"3.0 mm","f":15.6,"v":-3.5},{"s":"3.0 mm","f":16,"v":-3.5},{"s":"3.0 mm","f":16.4,"v":-3.6},{"s":"3.0 mm","f":16.8,"v":-3.7},{"s":"3.0 mm","f":17.2,"v":-3.7},{"s":"3.0 mm","f":17.6,"v":-3.8},{"s":"3.0 mm","f":18,"v":-3.8}
]
},
"spacing": 31,
"center": true,
"vconcat": [
{"width": 651, "height": 19, "view": {"stroke": null, "fill": "#bfbfbf"}, "data": {"values": []}, "mark": "point",
 "encoding": {"y": {"datum": 0, "type": "quantitative", "axis": {"orient": "right", "title": "|", "titleColor": "transparent", "titleFontSize": 10, "titlePadding": 19, "labels": false, "ticks": false, "domain": false, "grid": false}}}},
{"columns": 2, "spacing": {"row": -10, "column": 4},
 "resolve": {"scale": {"color": "independent", "shape": "independent", "x": "independent", "y": "independent"}, "legend": {"color": "independent", "shape": "independent"}},
 "concat": [
 {"width": 193, "height": 200, "title": {"text": "(a)", "dx": -45, "offset": 4}, "data": {"name": "a"},
  "resolve": {"axis": {"x": "independent", "y": "independent"}},
  "layer": [
   {"mark": {"type": "line", "strokeWidth": 2.5},
    "encoding": {
     "x": {"field": "f", "type": "quantitative", "scale": {"domain": [2, 18], "nice": false, "zero": false}, "axis": {"orient": "bottom", "values": [4,6,8,10,12,14,16], "labelExpr": "datum.value % 4 === 0 ? '' + datum.value : ''", "tickSize": {"condition": {"test": "datum.value % 4 === 0", "value": -5}, "value": -3}, "labelPadding": 10, "title": "Frequency (GHz)", "titlePadding": 1}},
     "y": {"field": "v", "type": "quantitative", "scale": {"domain": [-60, 5], "nice": false, "zero": false}, "axis": {"orient": "left", "values": [0,-10,-20,-30,-40,-50,-60], "labelExpr": "datum.value % 20 === 0 ? '' + datum.value : ''", "tickSize": {"condition": {"test": "datum.value % 20 === 0", "value": -5}, "value": -3}, "labelPadding": 9, "title": "Reflection loss (dB)", "titlePadding": 5}},
     "color": {"field": "s", "type": "nominal", "scale": {"domain": ["1.5 mm","2.0 mm","2.5 mm","3.0 mm"], "range": ["#FF8000","#8000FF","#FF0080","#00FF00"]},
       "legend": {"orient": "bottom-right", "offset": 6, "title": null, "labelFontSize": 11, "labelOffset": 8.8, "rowPadding": 2.3, "symbolSize": 100, "symbolOpacity": 1, "symbolStrokeWidth": 0}}
    }},
   {"mark": {"type": "point", "filled": true, "size": 0, "opacity": 1},
    "encoding": {
     "x": {"field": "f", "type": "quantitative", "axis": {"orient": "top", "values": [4,6,8,10,12,14,16], "labels": false, "title": null, "tickSize": {"condition": {"test": "datum.value % 4 === 0", "value": -5}, "value": -3}}},
     "y": {"field": "v", "type": "quantitative", "axis": {"orient": "right", "values": [0,-10,-20,-30,-40,-50], "labels": false, "title": null, "tickSize": {"condition": {"test": "datum.value % 20 === 0", "value": -5}, "value": -3}}},
     "color": {"field": "s", "type": "nominal", "legend": {"orient": "bottom-right", "offset": 6, "title": null, "labelFontSize": 11, "labelOffset": 8.8, "rowPadding": 2.3, "symbolSize": 100, "symbolOpacity": 1, "symbolStrokeWidth": 0}},
     "shape": {"field": "s", "type": "nominal", "scale": {"domain": ["1.5 mm","2.0 mm","2.5 mm","3.0 mm"], "range": ["M-2.66,-0.27H2.66V0.27H-2.66Z M-0.45,-0.45H0.45V0.45H-0.45Z", "M-2.66,-0.27H2.66V0.27H-2.66Z M-0.53,0A0.53,0.53 0 1,1 0.53,0A0.53,0.53 0 1,1 -0.53,0Z", "M-2.66,-0.27H2.66V0.27H-2.66Z M0,-0.59L0.59,0.45H-0.59Z", "M-2.66,-0.27H2.66V0.27H-2.66Z M0,0.59L-0.59,-0.45H0.59Z"]}, "legend": {"orient": "bottom-right", "offset": 6, "title": null, "labelFontSize": 11, "labelOffset": 8.8, "rowPadding": 2.3, "symbolSize": 100, "symbolOpacity": 1, "symbolStrokeWidth": 0}}
    }},
   {"transform": [{"filter": "datum.s == '1.5 mm'"}], "mark": {"type": "point", "filled": true, "shape": "square", "size": 12, "opacity": 1},
    "encoding": {"x": {"field": "f", "type": "quantitative", "axis": null}, "y": {"field": "v", "type": "quantitative", "axis": null}, "color": {"field": "s", "type": "nominal"}}},
   {"transform": [{"filter": "datum.s == '2.0 mm'"}], "mark": {"type": "point", "filled": true, "shape": "circle", "size": 12, "opacity": 1},
    "encoding": {"x": {"field": "f", "type": "quantitative", "axis": null}, "y": {"field": "v", "type": "quantitative", "axis": null}, "color": {"field": "s", "type": "nominal"}}},
   {"transform": [{"filter": "datum.s == '2.5 mm'"}], "mark": {"type": "point", "filled": true, "shape": "triangle-up", "size": 12, "opacity": 1},
    "encoding": {"x": {"field": "f", "type": "quantitative", "axis": null}, "y": {"field": "v", "type": "quantitative", "axis": null}, "color": {"field": "s", "type": "nominal"}}},
   {"transform": [{"filter": "datum.s == '3.0 mm'"}], "mark": {"type": "point", "filled": true, "shape": "triangle-down", "size": 12, "opacity": 1},
    "encoding": {"x": {"field": "f", "type": "quantitative", "axis": null}, "y": {"field": "v", "type": "quantitative", "axis": null}, "color": {"field": "s", "type": "nominal"}}},
   {"data": {"values": [{}]}, "mark": {"type": "text", "text": "S1", "align": "right", "baseline": "alphabetic", "dx": -5, "dy": 17, "fontSize": 16, "fontWeight": "bold", "color": "black"},
    "encoding": {
     "x": {"datum": 18, "type": "quantitative", "axis": null},
     "y": {"datum": 5, "type": "quantitative", "axis": null}
    }}
  ]},
 {"width": 190, "height": 200, "title": {"text": "(b)", "dx": -55, "offset": 4}, "data": {"name": "b"},
  "resolve": {"axis": {"x": "independent", "y": "independent"}},
  "layer": [
   {"mark": {"type": "line", "strokeWidth": 1.5},
    "encoding": {
     "x": {"field": "f", "type": "quantitative", "scale": {"domain": [2, 18], "nice": false, "zero": false}, "axis": {"orient": "bottom", "values": [4,6,8,10,12,14,16], "labelExpr": "datum.value % 4 === 0 ? '' + datum.value : ''", "tickSize": {"condition": {"test": "datum.value % 4 === 0", "value": -5}, "value": -3}, "labelPadding": 10, "title": "Frequency (GHz)", "titlePadding": 1}},
     "y": {"field": "v", "type": "quantitative", "scale": {"domain": [-60, 5], "nice": false, "zero": false}, "axis": {"orient": "left", "values": [0,-10,-20,-30,-40,-50,-60], "labelExpr": "datum.value % 20 === 0 ? '' + datum.value : ''", "tickSize": {"condition": {"test": "datum.value % 20 === 0", "value": -5}, "value": -3}, "labelPadding": 9, "title": "Reflection loss (dB)", "titlePadding": 5}},
     "color": {"field": "s", "type": "nominal", "scale": {"domain": ["1.5 mm","2.0 mm","2.5 mm","3.0 mm"], "range": ["#FF8000","#8000FF","#FF0080","#00FF00"]},
       "legend": {"orient": "bottom-right", "offset": 5, "title": null, "labelFontSize": 13.5, "labelOffset": 7.75, "rowPadding": 2.9, "symbolSize": 100, "symbolOpacity": 1, "symbolStrokeWidth": 0}}
    }},
   {"mark": {"type": "point", "filled": true, "size": 0, "opacity": 1},
    "encoding": {
     "x": {"field": "f", "type": "quantitative", "axis": {"orient": "top", "values": [4,6,8,10,12,14,16], "labels": false, "title": null, "tickSize": {"condition": {"test": "datum.value % 4 === 0", "value": -5}, "value": -3}}},
     "y": {"field": "v", "type": "quantitative", "axis": {"orient": "right", "values": [0,-10,-20,-30,-40,-50], "labels": false, "title": null, "tickSize": {"condition": {"test": "datum.value % 20 === 0", "value": -5}, "value": -3}}},
     "color": {"field": "s", "type": "nominal", "legend": {"orient": "bottom-right", "offset": 5, "title": null, "labelFontSize": 13.5, "labelOffset": 7.75, "rowPadding": 2.9, "symbolSize": 100, "symbolOpacity": 1, "symbolStrokeWidth": 0}},
     "shape": {"field": "s", "type": "nominal", "scale": {"domain": ["1.5 mm","2.0 mm","2.5 mm","3.0 mm"], "range": ["M-2.5,-0.15H2.5V0.15H-2.5Z M-0.5,-0.5H0.5V0.5H-0.5Z", "M-2.5,-0.15H2.5V0.15H-2.5Z M-0.6,0A0.6,0.6 0 1,1 0.6,0A0.6,0.6 0 1,1 -0.6,0Z", "M-2.5,-0.15H2.5V0.15H-2.5Z M0,-0.65L0.65,0.5H-0.65Z", "M-2.5,-0.15H2.5V0.15H-2.5Z M0,0.65L-0.65,-0.5H0.65Z"]}, "legend": {"orient": "bottom-right", "offset": 5, "title": null, "labelFontSize": 13.5, "labelOffset": 7.75, "rowPadding": 2.9, "symbolSize": 100, "symbolOpacity": 1, "symbolStrokeWidth": 0}}
    }},
   {"transform": [{"filter": "datum.s == '1.5 mm'"}], "mark": {"type": "point", "filled": true, "shape": "square", "size": 24, "opacity": 1},
    "encoding": {"x": {"field": "f", "type": "quantitative", "axis": null}, "y": {"field": "v", "type": "quantitative", "axis": null}, "color": {"field": "s", "type": "nominal"}}},
   {"transform": [{"filter": "datum.s == '2.0 mm'"}], "mark": {"type": "point", "filled": true, "shape": "circle", "size": 28, "opacity": 1},
    "encoding": {"x": {"field": "f", "type": "quantitative", "axis": null}, "y": {"field": "v", "type": "quantitative", "axis": null}, "color": {"field": "s", "type": "nominal"}}},
   {"transform": [{"filter": "datum.s == '2.5 mm'"}], "mark": {"type": "point", "filled": true, "shape": "triangle-up", "size": 30, "opacity": 1},
    "encoding": {"x": {"field": "f", "type": "quantitative", "axis": null}, "y": {"field": "v", "type": "quantitative", "axis": null}, "color": {"field": "s", "type": "nominal"}}},
   {"transform": [{"filter": "datum.s == '3.0 mm'"}], "mark": {"type": "point", "filled": true, "shape": "triangle-down", "size": 30, "opacity": 1},
    "encoding": {"x": {"field": "f", "type": "quantitative", "axis": null}, "y": {"field": "v", "type": "quantitative", "axis": null}, "color": {"field": "s", "type": "nominal"}}},
   {"data": {"values": [{}]}, "mark": {"type": "text", "text": "S2", "align": "right", "baseline": "alphabetic", "dx": -5, "dy": 17, "fontSize": 16, "fontWeight": "bold", "color": "black"},
    "encoding": {
     "x": {"datum": 18, "type": "quantitative", "axis": null},
     "y": {"datum": 5, "type": "quantitative", "axis": null}
    }}
  ]},
 {"width": 193, "height": 200, "title": {"text": "(c)", "dx": -45, "offset": 4}, "data": {"name": "c"},
  "resolve": {"axis": {"x": "independent", "y": "independent"}},
  "layer": [
   {"mark": {"type": "line", "strokeWidth": 0.7, "opacity": 0.55},
    "encoding": {
     "x": {"field": "f", "type": "quantitative", "scale": {"domain": [2, 18], "nice": false, "zero": false}, "axis": {"orient": "bottom", "values": [4,6,8,10,12,14,16], "labelExpr": "datum.value % 4 === 0 ? '' + datum.value : ''", "tickSize": {"condition": {"test": "datum.value % 4 === 0", "value": -5}, "value": -3}, "labelPadding": 10, "title": "Frequency (GHz)", "titlePadding": 1}},
     "y": {"field": "v", "type": "quantitative", "scale": {"domain": [-60, 5], "nice": false, "zero": false}, "axis": {"orient": "left", "values": [0,-10,-20,-30,-40,-50,-60], "labelExpr": "datum.value % 20 === 0 ? '' + datum.value : ''", "tickSize": {"condition": {"test": "datum.value % 20 === 0", "value": -5}, "value": -3}, "labelPadding": 9, "title": "Reflection loss (dB)", "titlePadding": 5}},
     "color": {"field": "s", "type": "nominal", "scale": {"domain": ["1.5 mm","2.0 mm","2.5 mm","3.0 mm"], "range": ["#FF8000","#8000FF","#FF0080","#00FF00"]},
       "legend": {"orient": "bottom-right", "offset": 5, "title": null, "labelFontSize": 11.5, "labelOffset": 8.25, "rowPadding": 1.9, "symbolSize": 100, "symbolOpacity": 1, "symbolStrokeWidth": 0}}
    }},
   {"mark": {"type": "point", "filled": true, "size": 0, "opacity": 1},
    "encoding": {
     "x": {"field": "f", "type": "quantitative", "axis": {"orient": "top", "values": [4,6,8,10,12,14,16], "labels": false, "title": null, "tickSize": {"condition": {"test": "datum.value % 4 === 0", "value": -5}, "value": -3}}},
     "y": {"field": "v", "type": "quantitative", "axis": {"orient": "right", "values": [0,-10,-20,-30,-40,-50], "labels": false, "title": null, "tickSize": {"condition": {"test": "datum.value % 20 === 0", "value": -5}, "value": -3}}},
     "color": {"field": "s", "type": "nominal", "legend": {"orient": "bottom-right", "offset": 5, "title": null, "labelFontSize": 11.5, "labelOffset": 8.25, "rowPadding": 1.9, "symbolSize": 100, "symbolOpacity": 1, "symbolStrokeWidth": 0}},
     "shape": {"field": "s", "type": "nominal", "scale": {"domain": ["1.5 mm","2.0 mm","2.5 mm","3.0 mm"], "range": ["M-2.2,-0.077H2.2V0.077H-2.2Z M-0.48,-0.48H0.48V0.48H-0.48Z", "M-2.2,-0.077H2.2V0.077H-2.2Z M-0.57,0A0.57,0.57 0 1,1 0.57,0A0.57,0.57 0 1,1 -0.57,0Z", "M-2.2,-0.077H2.2V0.077H-2.2Z M0,-0.62L0.66,0.48H-0.66Z", "M0,0.62L-0.66,-0.48H0.66Z"]}, "legend": {"orient": "bottom-right", "offset": 5, "title": null, "labelFontSize": 11.5, "labelOffset": 8.25, "rowPadding": 1.9, "symbolSize": 100, "symbolOpacity": 1, "symbolStrokeWidth": 0}}
    }},
   {"transform": [{"filter": "datum.s == '1.5 mm'"}], "mark": {"type": "point", "filled": true, "shape": "square", "size": 28, "opacity": 1},
    "encoding": {"x": {"field": "f", "type": "quantitative", "axis": null}, "y": {"field": "v", "type": "quantitative", "axis": null}, "color": {"field": "s", "type": "nominal"}}},
   {"transform": [{"filter": "datum.s == '2.0 mm'"}], "mark": {"type": "point", "filled": true, "shape": "circle", "size": 34, "opacity": 1},
    "encoding": {"x": {"field": "f", "type": "quantitative", "axis": null}, "y": {"field": "v", "type": "quantitative", "axis": null}, "color": {"field": "s", "type": "nominal"}}},
   {"transform": [{"filter": "datum.s == '2.5 mm'"}], "mark": {"type": "point", "filled": true, "shape": "triangle-up", "size": 34, "opacity": 1},
    "encoding": {"x": {"field": "f", "type": "quantitative", "axis": null}, "y": {"field": "v", "type": "quantitative", "axis": null}, "color": {"field": "s", "type": "nominal"}}},
   {"transform": [{"filter": "datum.s == '3.0 mm'"}], "mark": {"type": "point", "filled": true, "shape": "triangle-down", "size": 34, "opacity": 1},
    "encoding": {"x": {"field": "f", "type": "quantitative", "axis": null}, "y": {"field": "v", "type": "quantitative", "axis": null}, "color": {"field": "s", "type": "nominal"}}},
   {"data": {"values": [{}]}, "mark": {"type": "text", "text": "S3", "align": "right", "baseline": "alphabetic", "dx": -5, "dy": 17, "fontSize": 16, "fontWeight": "bold", "color": "black"},
    "encoding": {
     "x": {"datum": 18, "type": "quantitative", "axis": null},
     "y": {"datum": 5, "type": "quantitative", "axis": null}
    }}
  ]},
 {"width": 190, "height": 200, "title": {"text": "(d)", "dx": -55, "offset": 4}, "data": {"name": "d"},
  "resolve": {"axis": {"x": "independent", "y": "independent"}},
  "layer": [
   {"mark": {"type": "line", "strokeWidth": 3.5},
    "encoding": {
     "x": {"field": "f", "type": "quantitative", "scale": {"domain": [2, 18], "nice": false, "zero": false}, "axis": {"orient": "bottom", "values": [4,6,8,10,12,14,16], "labelExpr": "datum.value % 4 === 0 ? '' + datum.value : ''", "tickSize": {"condition": {"test": "datum.value % 4 === 0", "value": -5}, "value": -3}, "labelPadding": 10, "title": "Frequency (GHz)", "titlePadding": 1}},
     "y": {"field": "v", "type": "quantitative", "scale": {"domain": [-60, 5], "nice": false, "zero": false}, "axis": {"orient": "left", "values": [0,-10,-20,-30,-40,-50,-60], "labelExpr": "datum.value % 20 === 0 ? '' + datum.value : ''", "tickSize": {"condition": {"test": "datum.value % 20 === 0", "value": -5}, "value": -3}, "labelPadding": 9, "title": "Reflection loss (dB)", "titlePadding": 5}},
     "color": {"field": "s", "type": "nominal", "scale": {"domain": ["1.5 mm","2.0 mm","2.5 mm","3.0 mm"], "range": ["#FF8000","#8000FF","#FF0080","#00FF00"]},
       "legend": {"orient": "bottom-right", "offset": 5, "title": null, "labelFontSize": 13.5, "labelOffset": 8.25, "rowPadding": 2.5, "symbolSize": 100, "symbolOpacity": 1, "symbolStrokeWidth": 0}}
    }},
   {"mark": {"type": "point", "filled": true, "size": 0, "opacity": 1},
    "encoding": {
     "x": {"field": "f", "type": "quantitative", "axis": {"orient": "top", "values": [4,6,8,10,12,14,16], "labels": false, "title": null, "tickSize": {"condition": {"test": "datum.value % 4 === 0", "value": -5}, "value": -3}}},
     "y": {"field": "v", "type": "quantitative", "axis": {"orient": "right", "values": [0,-10,-20,-30,-40,-50], "labels": false, "title": null, "tickSize": {"condition": {"test": "datum.value % 20 === 0", "value": -5}, "value": -3}}},
     "color": {"field": "s", "type": "nominal", "legend": {"orient": "bottom-right", "offset": 5, "title": null, "labelFontSize": 13.5, "labelOffset": 8.25, "rowPadding": 2.5, "symbolSize": 100, "symbolOpacity": 1, "symbolStrokeWidth": 0}},
     "shape": {"field": "s", "type": "nominal", "scale": {"domain": ["1.5 mm","2.0 mm","2.5 mm","3.0 mm"], "range": ["M-0.53,-0.53H0.53V0.53H-0.53Z", "M-0.62,0A0.62,0.62 0 1,1 0.62,0A0.62,0.62 0 1,1 -0.62,0Z", "M-2.4,-0.072H2.4V0.072H-2.4Z M0,-0.67L0.72,0.53H-0.72Z", "M0,0.67L-0.72,-0.53H0.72Z"]}, "legend": {"orient": "bottom-right", "offset": 5, "title": null, "labelFontSize": 13.5, "labelOffset": 8.25, "rowPadding": 2.5, "symbolSize": 100, "symbolOpacity": 1, "symbolStrokeWidth": 0}}
    }},
   {"transform": [{"filter": "datum.s == '1.5 mm'"}], "mark": {"type": "point", "filled": true, "shape": "square", "size": 25, "opacity": 1},
    "encoding": {"x": {"field": "f", "type": "quantitative", "axis": null}, "y": {"field": "v", "type": "quantitative", "axis": null}, "color": {"field": "s", "type": "nominal"}}},
   {"transform": [{"filter": "datum.s == '2.0 mm'"}], "mark": {"type": "point", "filled": true, "shape": "circle", "size": 25, "opacity": 1},
    "encoding": {"x": {"field": "f", "type": "quantitative", "axis": null}, "y": {"field": "v", "type": "quantitative", "axis": null}, "color": {"field": "s", "type": "nominal"}}},
   {"transform": [{"filter": "datum.s == '2.5 mm'"}], "mark": {"type": "point", "filled": true, "shape": "triangle-up", "size": 25, "opacity": 1},
    "encoding": {"x": {"field": "f", "type": "quantitative", "axis": null}, "y": {"field": "v", "type": "quantitative", "axis": null}, "color": {"field": "s", "type": "nominal"}}},
   {"transform": [{"filter": "datum.s == '3.0 mm'"}], "mark": {"type": "point", "filled": true, "shape": "triangle-down", "size": 25, "opacity": 1},
    "encoding": {"x": {"field": "f", "type": "quantitative", "axis": null}, "y": {"field": "v", "type": "quantitative", "axis": null}, "color": {"field": "s", "type": "nominal"}}},
   {"data": {"values": [{}]}, "mark": {"type": "text", "text": "S4", "align": "right", "baseline": "alphabetic", "dx": -5, "dy": 17, "fontSize": 16, "fontWeight": "bold", "color": "black"},
    "encoding": {
     "x": {"datum": 18, "type": "quantitative", "axis": null},
     "y": {"datum": 5, "type": "quantitative", "axis": null}
    }}
  ]}
 ]}
]
}
